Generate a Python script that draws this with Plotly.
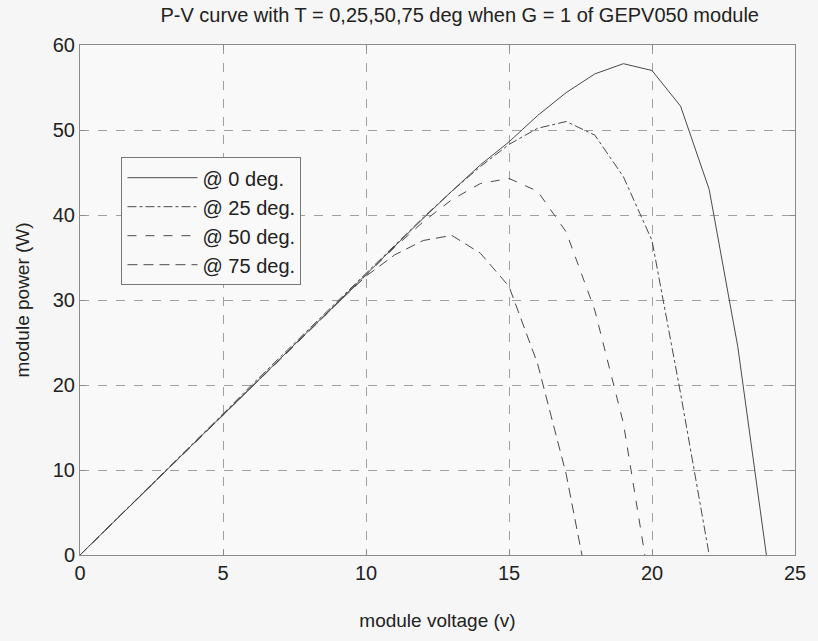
import plotly.graph_objects as go

# Module voltage samples (V) and module power (W) at G = 1 for four cell temperatures
v_0 = [0, 1, 2, 3, 4, 5, 6, 7, 8, 9, 10, 11, 12, 13, 14, 15, 16, 17, 18, 19, 20, 21, 22, 23, 24]
p_0 = [0, 3.3, 6.6, 10.0, 13.3, 16.6, 19.9, 23.2, 26.5, 29.8, 33.1, 36.4, 39.6, 42.8, 45.9,
       48.6, 51.7, 54.4, 56.6, 57.8, 57.0, 52.8, 43.0, 24.5, 0]

v_25 = [0, 1, 2, 3, 4, 5, 6, 7, 8, 9, 10, 11, 12, 13, 14, 15, 16, 17, 18, 19, 20, 21, 22]
p_25 = [0, 3.3, 6.7, 10.0, 13.3, 16.6, 20.0, 23.3, 26.6, 29.9, 33.2, 36.5, 39.7, 42.8, 45.7,
        48.3, 50.2, 51.0, 49.4, 44.5, 37.0, 19.0, 0]

v_50 = [0, 1, 2, 3, 4, 5, 6, 7, 8, 9, 10, 11, 12, 13, 14, 15, 16, 17, 18, 19, 19.75]
p_50 = [0, 3.3, 6.6, 9.9, 13.2, 16.5, 19.8, 23.1, 26.4, 29.7, 33.0, 36.2, 39.2, 41.8, 43.7,
        44.3, 42.8, 38.0, 28.8, 15.5, 0]

v_75 = [0, 1, 2, 3, 4, 5, 6, 7, 8, 9, 10, 11, 12, 13, 14, 15, 16, 17, 17.55]
p_75 = [0, 3.3, 6.6, 9.9, 13.2, 16.5, 19.8, 23.1, 26.4, 29.6, 32.8, 35.3, 37.0, 37.6, 35.5,
        31.6, 22.5, 9.5, 0]

series = [
    ("@ 0 deg.", v_0, p_0, "solid"),
    ("@ 25 deg.", v_25, p_25, "dashdot"),
    ("@ 50 deg.", v_50, p_50, "dash"),
    ("@ 75 deg.", v_75, p_75, "10px,6px"),
]

x_ticks = [0, 5, 10, 15, 20, 25]
y_ticks = [0, 10, 20, 30, 40, 50, 60]

FONT = "Liberation Sans, Arial, sans-serif"
LINE_COLOR = "#4a4a4a"
GRID_COLOR = "#a0a0a0"
AXIS_COLOR = "#8a8a8a"
TEXT_COLOR = "#222"

fig = go.Figure()
for name, v, p, dash in series:
    fig.add_trace(go.Scatter(
        x=v, y=p, mode="lines", name=name,
        line=dict(color=LINE_COLOR, width=1, dash=dash),
    ))

axis_common = dict(
    showline=True, linecolor=AXIS_COLOR, linewidth=1, mirror="ticks",
    ticks="inside", ticklen=5, tickcolor=AXIS_COLOR,
    showgrid=True, gridcolor=GRID_COLOR, griddash="dash", gridwidth=1,
    zeroline=False,
    tickfont=dict(family=FONT, size=20, color=TEXT_COLOR),
)

fig.update_layout(
    width=818, height=641,
    paper_bgcolor="#f6f6f6", plot_bgcolor="#f9f9f9",
    margin=dict(l=80, r=15, t=45, b=86),
    title=dict(
        text="P-V curve with T = 0,25,50,75 deg when G = 1 of GEPV050 module",
        font=dict(family=FONT, size=20, color=TEXT_COLOR),
        x=0.562, xanchor="center", y=0.977, yanchor="middle",
    ),
    xaxis=dict(axis_common, range=[0, 25], tickvals=x_ticks,
               title=dict(text="module voltage (v)",
                          font=dict(family=FONT, size=19, color=TEXT_COLOR),
                          standoff=30)),
    yaxis=dict(axis_common, range=[0, 60], tickvals=y_ticks,
               title=dict(text="module power (W)",
                          font=dict(family=FONT, size=19, color=TEXT_COLOR),
                          standoff=18)),
    legend=dict(
        x=0.058, y=0.78, xanchor="left", yanchor="top",
        bgcolor="#f9f9f9", bordercolor="#777", borderwidth=1,
        font=dict(family=FONT, size=20, color=TEXT_COLOR),
        itemwidth=70,
    ),
    showlegend=True,
)

fig.write_html("out.html")
